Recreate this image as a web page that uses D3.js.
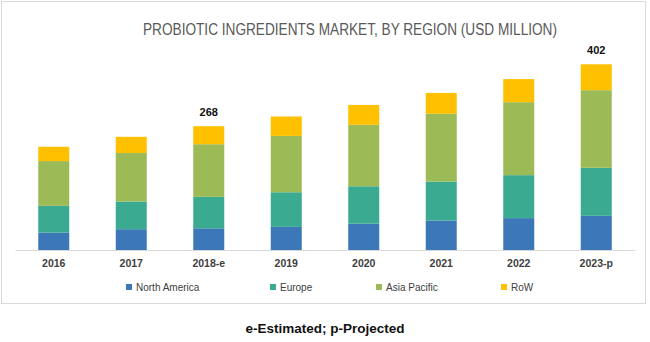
<!DOCTYPE html>
<html>
<head>
<meta charset="utf-8">
<script src="https://cdn.jsdelivr.net/npm/d3@7/dist/d3.min.js"></script>
<style>
  body { margin: 0; background: #fff; }
  text { font-family: "Liberation Sans", Arial, sans-serif; }
</style>
</head>
<body>
<svg id="chart" width="650" height="342"></svg>
<script>
// data (USD million)
var years = ['2016', '2017', '2018-e', '2019', '2020', '2021', '2022', '2023-p'];
var regions = ['North America', 'Europe', 'Asia Pacific', 'RoW'];
var northAmerica = [37.5, 45, 47, 50, 57, 64, 69, 74];
var europe = [58, 60, 68, 75, 81, 84, 93, 104];
var asiaPacific = [97, 105, 114, 122, 133, 147, 158, 168];
var row = [31, 35, 39, 42, 43, 45, 50, 56];
var labelled = { '2018-e': 268, '2023-p': 402 };
var colors = ['#3c78b8', '#3aaa91', '#9cba56', '#ffc000'];

var svg = d3.select('#chart');

// frame
svg.append('rect')
    .attr('x', 1.5).attr('y', 1.5)
    .attr('width', 644).attr('height', 302)
    .attr('fill', 'none')
    .attr('stroke', '#d9d9d9');

svg.append('text')
    .attr('x', 350).attr('y', 35)
    .attr('text-anchor', 'middle')
    .attr('fill', '#595959')
    .attr('font-size', 16)
    .attr('textLength', 414)
    .attr('lengthAdjust', 'spacingAndGlyphs')
    .text('PROBIOTIC INGREDIENTS MARKET, BY REGION (USD MILLION)');

var table = years.map(function (y, i) {
    return { year: y, na: northAmerica[i], eu: europe[i], ap: asiaPacific[i], row: row[i] };
});
var keys = ['na', 'eu', 'ap', 'row'];
var stacked = d3.stack().keys(keys)(table);

var x = d3.scaleBand()
    .domain(years)
    .range([15, 635])
    .paddingInner(0.6)
    .paddingOuter(0.3);

var y = d3.scaleLinear()
    .domain([0, 402])
    .range([250, 64.3]);

svg.append('g').selectAll('g')
    .data(stacked)
    .join('g')
    .attr('fill', function (d, i) { return colors[i]; })
    .selectAll('rect')
    .data(function (d) { return d; })
    .join('rect')
    .attr('x', function (d) { return x(d.data.year); })
    .attr('width', x.bandwidth())
    .attr('y', function (d) { return y(d[1]); })
    .attr('height', function (d) { return y(d[0]) - y(d[1]); });

// axis
var axis = svg.append('g')
    .attr('transform', 'translate(0,250)')
    .call(d3.axisBottom(x).tickSize(0).tickPadding(10));
axis.select('.domain').attr('stroke', '#d9d9d9');
axis.selectAll('text')
    .attr('font-size', 10.5)
    .attr('font-weight', 'bold')
    .attr('fill', '#404040');

// totals on two bars
svg.selectAll('.total')
    .data(years.filter(function (y) { return labelled[y]; }))
    .join('text')
    .attr('class', 'total')
    .attr('x', function (d) { return x(d) + x.bandwidth() / 2; })
    .attr('y', function (d) { return y(labelled[d]) - 10; })
    .attr('text-anchor', 'middle')
    .attr('font-size', 11)
    .attr('font-weight', 'bold')
    .attr('fill', '#111')
    .text(function (d) { return labelled[d]; });

// legend
var legendX = [126, 270, 376, 501];
var legend = svg.append('g').selectAll('g')
    .data(regions)
    .join('g')
    .attr('transform', function (d, i) { return 'translate(' + legendX[i] + ',287)'; });
legend.append('rect')
    .attr('x', 0).attr('y', -3)
    .attr('width', 6).attr('height', 6)
    .attr('fill', function (d, i) { return colors[i]; });
legend.append('text')
    .attr('x', 10).attr('y', 4)
    .attr('font-size', 10)
    .attr('fill', '#404040')
    .text(function (d) { return d; });

svg.append('text')
    .attr('x', 325).attr('y', 333)
    .attr('text-anchor', 'middle')
    .attr('font-size', 13.5)
    .attr('font-weight', 'bold')
    .attr('fill', '#111')
    .text('e-Estimated; p-Projected');
</script>
</body>
</html>
